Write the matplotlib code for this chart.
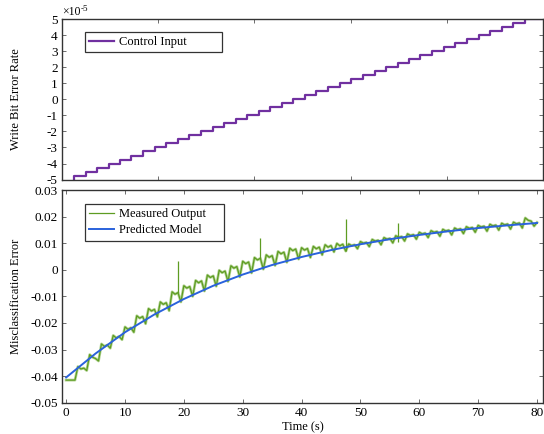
import matplotlib

matplotlib.use("Agg")
import matplotlib.pyplot as plt
import numpy as np

plt.rcParams["font.family"] = "serif"
plt.rcParams["font.serif"] = ["Liberation Serif", "DejaVu Serif"]
plt.rcParams["axes.unicode_minus"] = False

# --- top panel: staircase control input (units of 1e-5) ---
step_times = [1.3, 3.3, 5.2, 7.2, 9.2, 11.1, 13.1, 15.1, 17.0, 19.0,
              20.9, 22.9, 24.9, 26.8, 28.8, 30.8, 32.7, 34.7, 36.6, 38.6,
              40.6, 42.5, 44.5, 46.5, 48.4, 50.4, 52.4, 54.3, 56.3, 58.3,
              60.2, 62.2, 64.2, 66.1, 68.1, 70.1, 72.0, 74.0, 75.9, 77.9]
control_levels = [-4.75, -4.50, -4.25, -4.00, -3.75, -3.50, -3.25, -3.00, -2.75, -2.50,
                  -2.25, -2.00, -1.75, -1.50, -1.25, -1.00, -0.75, -0.50, -0.25, 0.00,
                  0.25, 0.50, 0.75, 1.00, 1.25, 1.50, 1.75, 2.00, 2.25, 2.50,
                  2.75, 3.00, 3.25, 3.50, 3.75, 4.00, 4.25, 4.50, 4.75, 5.00]
control_ticks = [-5, -4, -3, -2, -1, 0, 1, 2, 3, 4, 5]

# --- bottom panel: measured output (every 0.5 s, units of 1e-3) ---
measured = [
    -41.5, -41.5, -41.5, -41.5,
    -36.4, -37.3, -37.0, -37.9,
    -31.9, -32.9, -33.4, -34.3,
    -27.9, -28.8, -28.3, -29.5,
    -24.7, -25.6, -25.1, -26.3,
    -21.5, -22.4, -21.8, -23.5,
    -17.3, -18.2, -17.6, -20.3,
    -14.6, -15.5, -14.9, -17.7,
    -12.1, -13.0, -12.4, -15.4,
    -8.3, -9.2, -8.6, -12.1,
    -6.0, -6.9, -6.3, -10.0,
    -4.0, -4.9, -4.2, -8.0,
    -2.0, -2.9, -2.3, -6.2,
    -0.2, -1.1, -0.5, -4.4,
    1.5, 0.6, 1.2, -2.7,
    3.2, 2.3, 2.9, -1.2,
    4.6, 3.7, 4.3, 0.2,
    5.6, 4.7, 5.3, 1.6,
    6.9, 6.0, 6.6, 2.8,
    8.1, 7.2, 7.8, 4.0,
    8.3, 7.4, 8.0, 4.6,
    8.8, 7.9, 8.5, 5.6,
    9.4, 8.5, 9.1, 6.7,
    9.9, 9.0, 9.6, 7.0,
    9.7, 9.1, 9.4, 7.9,
    10.6, 10.0, 10.3, 8.7,
    11.4, 10.8, 11.1, 9.4,
    12.1, 11.5, 11.8, 10.1,
    12.8, 12.2, 12.5, 10.8,
    13.5, 12.9, 13.2, 11.5,
    14.1, 13.5, 13.8, 12.1,
    14.7, 14.1, 14.4, 12.6,
    15.2, 14.6, 14.9, 13.1,
    15.7, 15.1, 15.4, 13.6,
    16.2, 15.6, 15.9, 14.1,
    16.7, 16.1, 16.4, 14.5,
    17.1, 16.5, 16.8, 14.9,
    17.5, 16.9, 17.2, 15.3,
    17.9, 17.3, 17.6, 15.7,
    19.5, 18.6, 18.3, 16.4,
    17.8,
]
measured_t = np.arange(len(measured)) * 0.5

spike_t = [19.0, 33.0, 47.5, 56.4]
spike_lo = [-8.6, 4.3, 7.0, 10.5]
spike_hi = [3.3, 11.9, 19.1, 17.7]

model_t = [0, 5, 10, 15, 20, 25, 30, 35, 40, 45, 50, 55, 60, 65, 70, 75, 80]
model = [-40.5, -31.5, -23.5, -16.8, -11.0, -6.0, -1.8, 1.8, 4.8, 7.4,
         9.6, 11.5, 13.1, 14.5, 15.7, 16.7, 17.6]
error_ticks = [-0.05, -0.04, -0.03, -0.02, -0.01, 0, 0.01, 0.02, 0.03]
time_ticks = [0, 10, 20, 30, 40, 50, 60, 70, 80]

PURPLE = "#7030a0"
GREEN = "#5e9c22"
GREEN_LIGHT = "#b3d494"
BLUE = "#2a62dc"
EDGE = "#333333"
XLIM = (-0.7, 81.0)

fig = plt.figure(figsize=(5.44, 4.34), dpi=100)
ax1 = fig.add_axes([0.114, 0.5864, 0.884, 0.3687])
ax2 = fig.add_axes([0.114, 0.0721, 0.884, 0.4901])

for ax in (ax1, ax2):
    ax.set_xlim(*XLIM)
    ax.tick_params(direction="in", top=True, right=True, length=3,
                   width=0.6, color="#555555", labelsize=9.5, pad=3)
    for spine in ax.spines.values():
        spine.set_color(EDGE)
        spine.set_linewidth(1.0)

legend_style = dict(loc="upper left", borderaxespad=0, mode="expand", fontsize=9,
                    fancybox=False, framealpha=1, edgecolor=EDGE, handlelength=2.0,
                    handletextpad=0.35, borderpad=0.35, labelspacing=0.3)

# top panel
x_stairs = [step_times[0]] + step_times + [XLIM[1]]
y_stairs = [-5.0] + control_levels + [control_levels[-1]]
ax1.step(x_stairs, y_stairs, where="post", color=PURPLE, lw=1.6, label="Control Input")
ax1.set_ylim(-5, 5)
ax1.set_yticks(control_ticks)
ax1.set_yticklabels([str(v) for v in control_ticks])
ax1.set_xticks(np.linspace(XLIM[0], XLIM[1], 6)[1:-1])
ax1.tick_params(labelbottom=False)
# exponent note drawn as plain text so the minus stays a hyphen
ax1.annotate("\u00d710", xy=(0, 1), xycoords="axes fraction", xytext=(0, 1),
             textcoords="offset points", ha="left", va="bottom", fontsize=8.5)
ax1.annotate("-5", xy=(0, 1), xycoords="axes fraction", xytext=(13.6, 5.0),
             textcoords="offset points", ha="left", va="bottom", fontsize=6.5)
ax1.set_ylabel("Write Bit Error Rate", fontsize=9)
ax1.yaxis.set_label_coords(-0.084, 0.5)
leg1 = ax1.legend(bbox_to_anchor=(0.048, 0.0, 0.285, 0.924), **legend_style)
leg1.get_frame().set_linewidth(0.9)

# bottom panel
ax2.plot(measured_t, np.array(measured) * 1e-3, color=GREEN_LIGHT, lw=2.0)
ax2.vlines(spike_t, np.array(spike_lo) * 1e-3, np.array(spike_hi) * 1e-3,
           color=GREEN, lw=0.9)
ax2.plot(measured_t, np.array(measured) * 1e-3, color=GREEN, lw=0.9,
         label="Measured Output")
ax2.plot(model_t, np.array(model) * 1e-3, color=BLUE, lw=1.4,
         label="Predicted Model")
ax2.set_ylim(-0.05, 0.03)
ax2.set_yticks(error_ticks)
ax2.set_yticklabels(["0" if v == 0 else f"{v:.2f}" for v in error_ticks])
ax2.set_xticks(time_ticks)
ax2.set_ylabel("Misclassification Error", fontsize=9)
ax2.yaxis.set_label_coords(-0.084, 0.5)
ax2.set_xlabel("Time (s)", fontsize=9, labelpad=1.5)
leg2 = ax2.legend(bbox_to_anchor=(0.048, 0.0, 0.289, 0.934), **legend_style)
leg2.get_frame().set_linewidth(0.9)

fig.savefig("out.png", dpi=100)
